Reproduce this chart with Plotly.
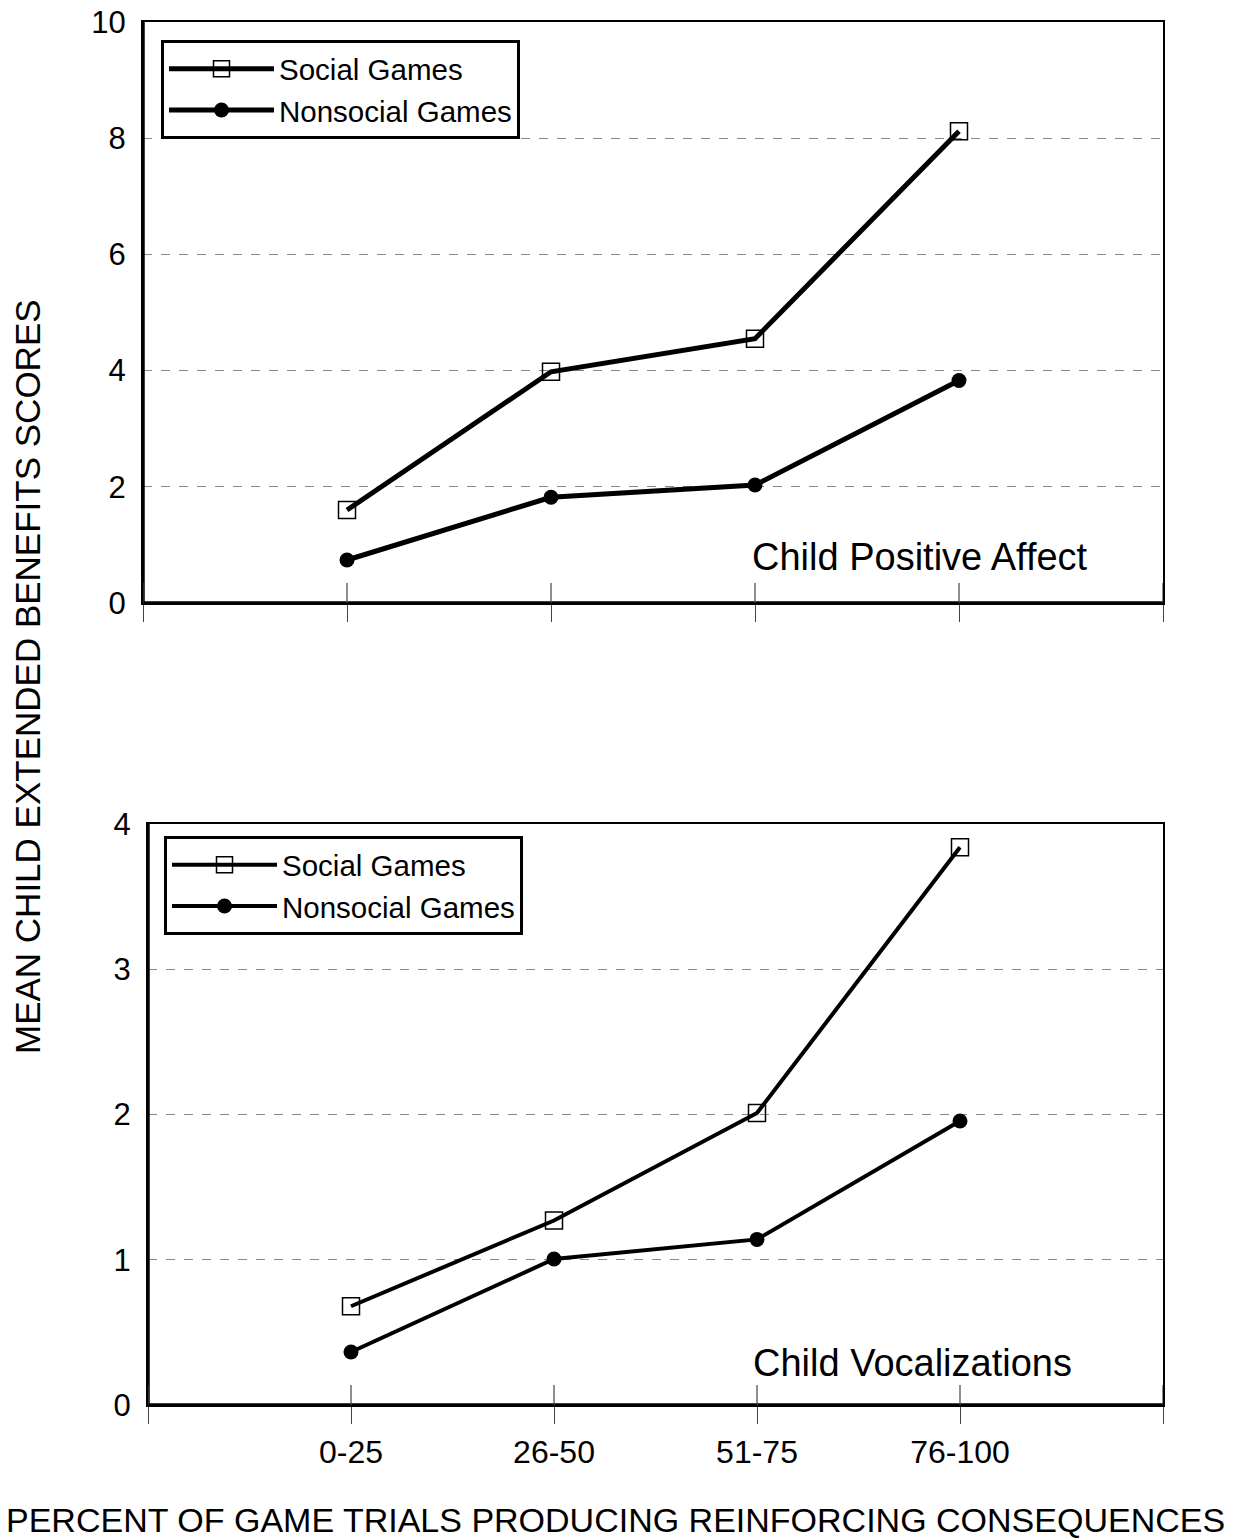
import plotly.graph_objects as go

categories = ["0-25", "26-50", "51-75", "76-100"]
x_pos = [1, 2, 3, 4]

affect_social = [1.60, 3.98, 4.55, 8.12]
affect_nonsocial = [0.74, 1.82, 2.03, 3.83]

vocal_social = [0.68, 1.27, 2.01, 3.84]
vocal_nonsocial = [0.365, 1.005, 1.14, 1.955]

FONT = "Arial, Liberation Sans, sans-serif"
W, H = 1249, 1539

fig = go.Figure()

def add_pair(social, nonsocial, xa, ya, legend, lw):
    fig.add_trace(go.Scatter(
        x=x_pos, y=social, mode="lines+markers", name="Social Games",
        xaxis=xa, yaxis=ya, legend=legend,
        line=dict(color="black", width=lw),
        marker=dict(symbol="square-open", size=17, color="black", line=dict(width=1.5, color="black")),
    ))
    fig.add_trace(go.Scatter(
        x=x_pos, y=nonsocial, mode="lines+markers", name="Nonsocial Games",
        xaxis=xa, yaxis=ya, legend=legend,
        line=dict(color="black", width=lw),
        marker=dict(symbol="circle", size=15, color="black"),
    ))

add_pair(affect_social, affect_nonsocial, "x", "y", "legend", 5)
add_pair(vocal_social, vocal_nonsocial, "x2", "y2", "legend2", 4)

def px_x(p):
    return p / W

def px_y(p):
    return 1 - p / H

axis_common = dict(
    showline=True, linecolor="black", linewidth=2, mirror=True,
    zeroline=False, ticklabeloverflow="allow",
)

legend_common = dict(
    xanchor="left", yanchor="top", xref="paper", yref="paper",
    bordercolor="black", borderwidth=3, bgcolor="white",
    font=dict(size=29.5), itemwidth=105, tracegroupgap=0,
)

fig.update_layout(
    width=W, height=H,
    margin=dict(l=0, r=0, t=0, b=0, autoexpand=False),
    paper_bgcolor="white", plot_bgcolor="white",
    font=dict(family=FONT, color="black", size=31),
    xaxis=dict(
        domain=[px_x(143), px_x(1163)], range=[0, 5], anchor="y",
        tickvals=[0, 1, 2, 3, 4, 5], ticktext=[""] * 6,
        ticks="outside", ticklen=17, tickcolor="#444", tickwidth=1.2,
        showgrid=False, **axis_common,
    ),
    yaxis=dict(
        domain=[px_y(603), px_y(22)], range=[0, 10], anchor="x",
        tickvals=[0, 2, 4, 6, 8, 10], ticks="", ticklabelstandoff=9,
        showgrid=True, gridcolor="#888", griddash="dash", gridwidth=1,
        tickfont=dict(size=31), **axis_common,
    ),
    xaxis2=dict(
        domain=[px_x(148), px_x(1163)], range=[0, 5], anchor="y2",
        tickvals=[0, 1, 2, 3, 4, 5], ticktext=[""] + categories + [""],
        ticks="outside", ticklen=17, tickcolor="#444", tickwidth=1.2,
        ticklabelstandoff=1, tickfont=dict(size=32),
        showgrid=False, **axis_common,
    ),
    yaxis2=dict(
        domain=[px_y(1405), px_y(824)], range=[0, 4], anchor="x2",
        tickvals=[0, 1, 2, 3, 4], ticks="", ticklabelstandoff=9,
        showgrid=True, gridcolor="#888", griddash="dash", gridwidth=1,
        tickfont=dict(size=31), **axis_common,
    ),
    legend=dict(x=px_x(161), y=px_y(40), **legend_common),
    legend2=dict(x=px_x(164), y=px_y(836), **legend_common),
    showlegend=True,
)

# thicker left and bottom axis lines plus inside part of the crossing x ticks
for xa, ya in (("x", "y"), ("x2", "y2")):
    fig.add_shape(type="line", xref=f"{xa} domain", yref=f"{ya} domain",
                  x0=0, x1=0, y0=0, y1=1, line=dict(color="black", width=3.5), layer="above")
    fig.add_shape(type="line", xref=f"{xa} domain", yref=f"{ya} domain",
                  x0=0, x1=1, y0=0, y1=0, line=dict(color="black", width=3.5), layer="above")
    for v in [0, 1, 2, 3, 4, 5]:
        fig.add_shape(type="line", xref=xa, yref=f"{ya} domain",
                      x0=v, x1=v, y0=0, y1=20 / 581,
                      line=dict(color="#444", width=1.2), layer="above")

fig.add_annotation(text="Child Positive Affect", x=2.975, y=0.79, xref="x", yref="y",
                   showarrow=False, font=dict(size=38), xanchor="left", yanchor="middle")
fig.add_annotation(text="Child Vocalizations", x=2.97, y=0.29, xref="x2", yref="y2",
                   showarrow=False, font=dict(size=38), xanchor="left", yanchor="middle")

fig.add_annotation(text="MEAN CHILD EXTENDED BENEFITS SCORES", textangle=-90,
                   x=px_x(28), y=px_y(677), xref="paper", yref="paper",
                   showarrow=False, font=dict(size=35), xanchor="center", yanchor="middle")
fig.add_annotation(text="PERCENT OF GAME TRIALS PRODUCING REINFORCING CONSEQUENCES",
                   x=px_x(615), y=px_y(1520), xref="paper", yref="paper",
                   showarrow=False, font=dict(size=34), xanchor="center", yanchor="middle")

fig.write_html("out.html", config={"displayModeBar": False},
               post_script="document.body.style.margin='0';document.body.style.overflow='hidden';")
